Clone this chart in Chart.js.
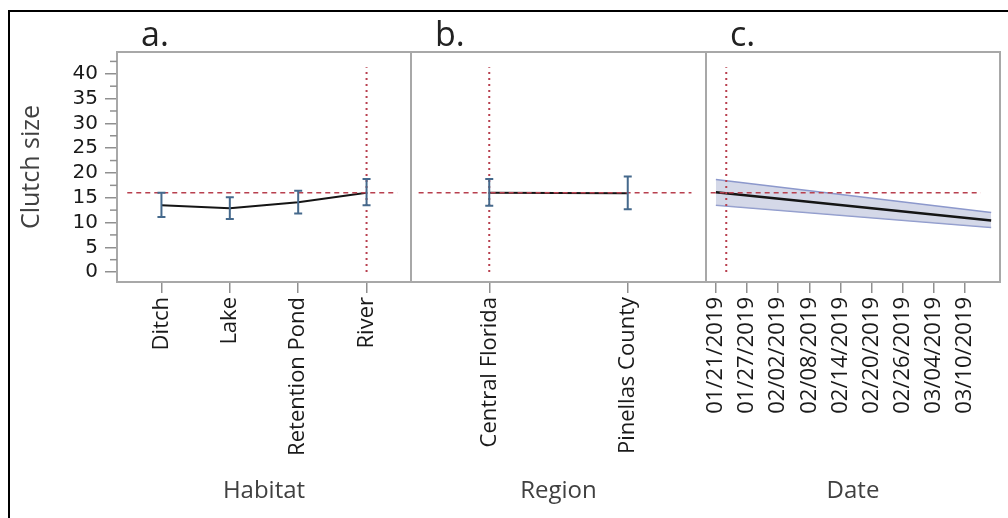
<!DOCTYPE html>
<html>
<head>
<meta charset="utf-8">
<script src="https://cdn.jsdelivr.net/npm/chart.js@4.4.0/dist/chart.umd.min.js"></script>
<style>
  body { margin: 0; background: #fff; }
  #wrap { position: relative; width: 1008px; height: 518px; overflow: hidden; }
  #frame { position: absolute; left: 8px; top: 10px; width: 1030px; height: 540px; border: 2px solid #000; box-sizing: border-box; }
  canvas { position: absolute; left: 0; top: 0; }
</style>
</head>
<body>
<div id="wrap">
  <div id="frame"></div>
  <canvas id="panelA" width="1008" height="518"></canvas>
  <canvas id="panelB" width="1008" height="518"></canvas>
  <canvas id="panelC" width="1008" height="518"></canvas>
</div>
<script>
// Clutch size prediction profiles: habitat, region, date
var yRange = [-2, 44.4];
var yTicks = [0, 5, 10, 15, 20, 25, 30, 35, 40];
var yMinorTicks = [2.5, 7.5, 12.5, 17.5, 22.5, 27.5, 32.5, 37.5, 42.5];

var habitats = ['Ditch', 'Lake', 'Retention Pond', 'River'];
var habitatMean = [13.5, 12.9, 14.1, 16.0];
var habitatLow = [11.1, 10.7, 11.8, 13.5];
var habitatHigh = [16.0, 15.1, 16.4, 18.8];

var regions = ['Central Florida', 'Pinellas County'];
var regionMean = [16.0, 15.9];
var regionLow = [13.4, 12.7];
var regionHigh = [18.8, 19.3];

var dateTicks = ['01/21/2019', '01/27/2019', '02/02/2019', '02/08/2019', '02/14/2019',
                 '02/20/2019', '02/26/2019', '03/04/2019', '03/10/2019'];
var dateEnds = ['01/21/2019', '03/15/2019'];
var dateFit = [16.1, 10.4];
var dateUpper = [18.7, 12.0];
var dateLower = [13.5, 9.0];

// current profiler setting (red crosshairs)
var refClutch = 16.0;
var refHabitat = 'River';
var refRegion = 'Central Florida';
var refDate = '01/23/2019';
var crossSpan = [0, 41.3];
var refSpanA = [-0.5, 3.45];
var refSpanB = [-0.51, 1.46];
var refSpanC = ['01/20/2019', '03/13/2019'];

var FONT = '"Open Sans", "DejaVu Sans", sans-serif';
var RED = '#b8404f';
var BLUE = '#45698c';

// days since the first date tick
function dayOf(s) {
  var p = s.split('/').map(Number);
  return (Date.UTC(p[2], p[0] - 1, p[1]) - Date.UTC(2019, 0, 21)) / 86400000;
}

var plotBox = {
  id: 'plotBox',
  afterDraw: function (chart) {
    var a = chart.chartArea, ctx = chart.ctx;
    ctx.save();
    ctx.strokeStyle = '#a8a8a8';
    ctx.lineWidth = 2;
    ctx.strokeRect(a.left, a.top, a.right - a.left, a.bottom - a.top);
    ctx.restore();
  }
};

var minorTicks = {
  id: 'minorTicks',
  afterDraw: function (chart, args, opts) {
    if (!opts.values || !opts.values.length) return;
    var y = chart.scales.y, ctx = chart.ctx, left = chart.chartArea.left;
    ctx.save();
    ctx.strokeStyle = '#909090';
    ctx.lineWidth = 1.5;
    opts.values.forEach(function (v) {
      var py = y.getPixelForValue(v);
      ctx.beginPath();
      ctx.moveTo(left - 7, py);
      ctx.lineTo(left, py);
      ctx.stroke();
    });
    ctx.restore();
  }
};

var errorBars = {
  id: 'errorBars',
  afterDatasetsDraw: function (chart, args, opts) {
    if (!opts.lo) return;
    var xs = chart.scales.x, ys = chart.scales.y, ctx = chart.ctx;
    ctx.save();
    ctx.strokeStyle = BLUE;
    ctx.lineWidth = 2;
    opts.lo.forEach(function (lo, i) {
      var px = xs.getPixelForValue(i);
      var p1 = ys.getPixelForValue(lo), p2 = ys.getPixelForValue(opts.hi[i]);
      ctx.beginPath();
      ctx.moveTo(px, p1); ctx.lineTo(px, p2);
      ctx.moveTo(px - 4, p1); ctx.lineTo(px + 4, p1);
      ctx.moveTo(px - 4, p2); ctx.lineTo(px + 4, p2);
      ctx.stroke();
    });
    ctx.restore();
  }
};

var panelLetter = {
  id: 'panelLetter',
  afterDraw: function (chart, args, opts) {
    var ctx = chart.ctx;
    ctx.save();
    ctx.font = '34px ' + FONT;
    ctx.fillStyle = '#222';
    ctx.textBaseline = 'alphabetic';
    ctx.fillText(opts.text, chart.chartArea.left + 24, 46);
    ctx.restore();
  }
};

function refLines(xAt, span) {
  return [{
    data: [{x: xAt, y: crossSpan[0]}, {x: xAt, y: crossSpan[1]}],
    borderColor: RED, borderWidth: 2, borderDash: [2, 4], pointRadius: 0, order: 0
  }, {
    data: [{x: span[0], y: refClutch}, {x: span[1], y: refClutch}],
    borderColor: RED, borderWidth: 1.5, borderDash: [5, 4], pointRadius: 0, order: 0
  }];
}

function makePanel(id, cfg) {
  return new Chart(document.getElementById(id), {
    type: 'line',
    data: { datasets: cfg.datasets },
    options: {
      responsive: false,
      animation: false,
      layout: { padding: cfg.padding },
      plugins: {
        legend: { display: false },
        tooltip: { enabled: false },
        panelLetter: { text: cfg.letter },
        errorBars: cfg.errorBars || {},
        minorTicks: { values: cfg.showY ? yMinorTicks : [] }
      },
      scales: {
        x: {
          type: 'linear',
          min: cfg.xRange[0],
          max: cfg.xRange[1],
          afterBuildTicks: function (s) { s.ticks = cfg.ticks.map(function (v) { return {value: v}; }); },
          afterFit: function (s) { s.height = 236; },
          grid: { drawOnChartArea: false, tickLength: 11, color: '#909090', lineWidth: 1.5 },
          border: { display: false },
          ticks: {
            autoSkip: false, minRotation: 90, maxRotation: 90, padding: 4,
            color: '#1a1a1a', font: { family: FONT, size: 22 },
            callback: function (v, i) { return cfg.labels[i]; }
          },
          title: {
            display: true, text: cfg.title, color: '#404040',
            font: { family: FONT, size: 24 }, padding: { top: 0, bottom: 12 }
          }
        },
        y: {
          display: cfg.showY,
          min: yRange[0],
          max: yRange[1],
          afterBuildTicks: function (s) { s.ticks = yTicks.map(function (v) { return {value: v}; }); },
          afterFit: function (s) { s.width = cfg.showY ? 103 : 0; },
          grid: { drawOnChartArea: false, tickLength: 12, color: '#909090', lineWidth: 1.5 },
          border: { display: false },
          ticks: { padding: 7, color: '#1a1a1a', font: { family: '"DejaVu Sans", sans-serif', size: 20 } },
          title: {
            display: true, text: 'Clutch size', color: '#404040',
            font: { family: FONT, size: 25 }, padding: { top: 3, bottom: 4 }
          }
        }
      }
    },
    plugins: [panelLetter, plotBox, minorTicks, errorBars]
  });
}

// a. Habitat
makePanel('panelA', {
  letter: 'a.', title: 'Habitat', showY: true,
  padding: { left: 14, top: 52, right: 1008 - 411, bottom: 0 },
  xRange: [-0.65, 3.65],
  ticks: habitats.map(function (h, i) { return i; }),
  labels: habitats,
  errorBars: { lo: habitatLow, hi: habitatHigh },
  datasets: refLines(habitats.indexOf(refHabitat), refSpanA).concat([{
    data: habitatMean.map(function (v, i) { return {x: i, y: v}; }),
    borderColor: '#151515', borderWidth: 2, pointRadius: 0, order: 2
  }])
});

// b. Region
makePanel('panelB', {
  letter: 'b.', title: 'Region', showY: false,
  padding: { left: 411, top: 52, right: 1008 - 706, bottom: 0 },
  xRange: [-0.565, 1.565],
  ticks: regions.map(function (r, i) { return i; }),
  labels: regions,
  errorBars: { lo: regionLow, hi: regionHigh },
  datasets: refLines(regions.indexOf(refRegion), refSpanB).concat([{
    data: regionMean.map(function (v, i) { return {x: i, y: v}; }),
    borderColor: '#151515', borderWidth: 2, pointRadius: 0, order: 2
  }])
});

// c. Date, fitted trend with confidence band
var endDays = dateEnds.map(dayOf);
makePanel('panelC', {
  letter: 'c.', title: 'Date', showY: false,
  padding: { left: 706, top: 52, right: 8, bottom: 0 },
  xRange: [-1.9, 54.7],
  ticks: dateTicks.map(dayOf),
  labels: dateTicks,
  datasets: refLines(dayOf(refDate), refSpanC.map(dayOf)).concat([{
    data: dateUpper.map(function (v, i) { return {x: endDays[i], y: v}; }),
    borderColor: '#8c98cc', borderWidth: 1.5, pointRadius: 0,
    fill: '+1', backgroundColor: 'rgba(176,184,214,0.55)', order: 3
  }, {
    data: dateLower.map(function (v, i) { return {x: endDays[i], y: v}; }),
    borderColor: '#8c98cc', borderWidth: 1.5, pointRadius: 0, order: 3
  }, {
    data: dateFit.map(function (v, i) { return {x: endDays[i], y: v}; }),
    borderColor: '#151515', borderWidth: 2.5, pointRadius: 0, order: 2
  }])
});
</script>
</body>
</html>
